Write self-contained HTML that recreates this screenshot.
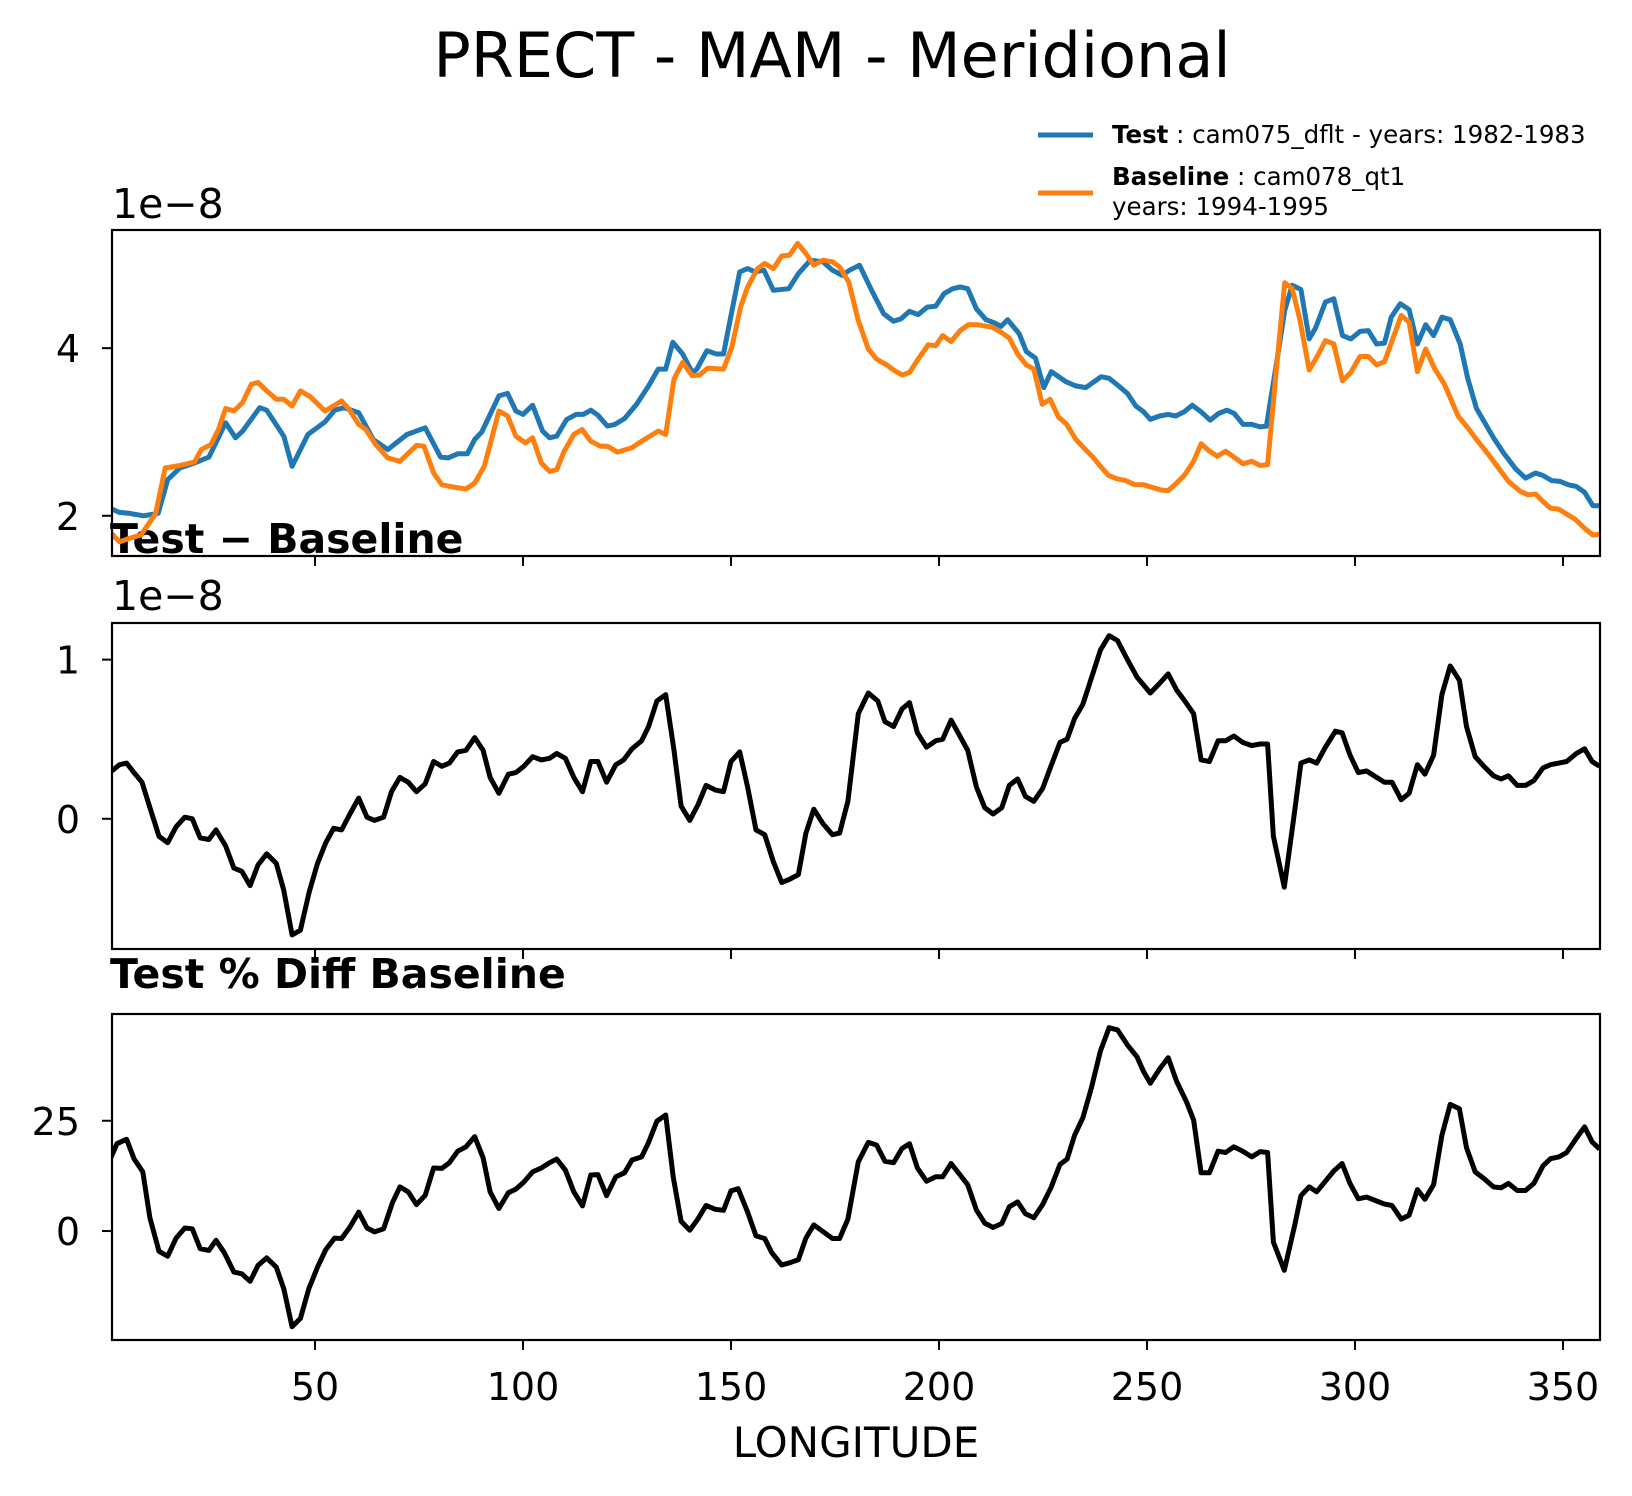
<!DOCTYPE html>
<html><head><meta charset="utf-8"><style>
body{margin:0;background:#fff}
svg{display:block;font-family:"DejaVu Sans","Liberation Sans",sans-serif}
</style></head><body>
<svg id="chart" width="1632" height="1496" viewBox="0 0 1632 1496">
<rect width="1632" height="1496" fill="#fff"/>
<text x="832" y="77" font-size="62" text-anchor="middle">PRECT - MAM - Meridional</text>
<g>
<line x1="1038" y1="135" x2="1093" y2="135" stroke="#1f77b4" stroke-width="5"/>
<text x="1112" y="143" font-size="24.5"><tspan font-weight="bold">Test</tspan> : cam075_dflt - years: 1982-1983</text>
<line x1="1038" y1="193" x2="1093" y2="193" stroke="#ff7f0e" stroke-width="5"/>
<text x="1112" y="185" font-size="24.5"><tspan font-weight="bold">Baseline</tspan> : cam078_qt1</text>
<text x="1112" y="215" font-size="24.5">years: 1994-1995</text>
</g>
<text x="112" y="218" font-size="41">1e−8</text>
<text x="112" y="610" font-size="41">1e−8</text>
<text x="110" y="553" font-size="41" font-weight="bold">Test − Baseline</text>
<text x="110" y="988" font-size="41" font-weight="bold">Test % Diff Baseline</text>
<text x="856" y="1457" font-size="42" text-anchor="middle">LONGITUDE</text>
<g id="plots"></g>
</svg>
<script>
const xTicks=[50,100,150,200,250,300,350];
const topTicks=[2,4];
const midTicks=[0,1];
const botTicks=[0,25];
const testLon=[0.66,3,5.3,8.8,12.3,14.6,17.5,21,24.5,28.5,30.9,32.6,36.7,38.4,42.5,44.5,48.3,52.4,54.7,57,60.5,64,67.5,72.1,76.5,80.2,82,84.3,86.6,88.4,90.1,94.2,96.3,98.3,100,102.3,104.7,106.4,108.1,110.5,112.8,114.5,116.3,118,120.3,122.1,124.4,127.3,130.2,132.5,134.3,136,138.4,140.7,141.8,144.2,146.5,148.2,150,152.1,154,155.8,157.9,160.2,163.9,166.2,169.1,172.1,174.4,176.7,178.5,180.9,183.8,186.7,189.1,190.9,192.9,195,197.2,199.2,201.2,203.3,205.1,206.9,209,211.3,213.4,214.9,216.5,219.3,221,223.2,225.2,227,230.5,232.9,235.3,239,240.9,242.9,245.3,247.3,249.2,250.8,253,255.1,256.9,258.9,260.9,263,265.2,267.2,269.2,271,273.1,275.2,277.2,278.7,281.3,283.1,284.9,287,289,290.5,292.9,294.9,297,299,301.2,303.2,305.2,307.1,308.7,310.9,313,315,317,318.9,320.9,322.9,325.3,327.1,329.2,333.3,335.7,338.6,341,343.4,345.2,347.3,349.3,351.3,353.2,355.2,357.2,358.8];
const testVal=[2.09,2.04,2.03,2.0,2.03,2.43,2.57,2.63,2.70,3.11,2.93,3.01,3.29,3.26,2.95,2.59,2.97,3.12,3.26,3.29,3.23,2.91,2.79,2.97,3.05,2.70,2.69,2.74,2.74,2.91,3.00,3.43,3.46,3.25,3.21,3.32,3.01,2.93,2.95,3.15,3.21,3.21,3.26,3.20,3.07,3.09,3.16,3.33,3.55,3.75,3.75,4.07,3.93,3.71,3.75,3.97,3.93,3.93,4.39,4.91,4.95,4.91,4.93,4.69,4.71,4.89,5.05,5.03,4.93,4.87,4.93,4.99,4.69,4.41,4.32,4.35,4.44,4.40,4.49,4.50,4.65,4.71,4.73,4.71,4.47,4.34,4.30,4.26,4.34,4.17,3.96,3.88,3.53,3.72,3.60,3.55,3.53,3.66,3.64,3.56,3.46,3.31,3.24,3.15,3.19,3.21,3.19,3.24,3.32,3.24,3.14,3.22,3.26,3.22,3.09,3.09,3.06,3.07,3.87,4.45,4.75,4.70,4.11,4.24,4.55,4.59,4.15,4.11,4.20,4.21,4.05,4.06,4.37,4.53,4.46,4.05,4.28,4.15,4.37,4.34,4.05,3.64,3.28,2.93,2.75,2.56,2.45,2.51,2.48,2.42,2.41,2.37,2.35,2.28,2.12,2.12];
const baseLon=[0.66,3,5.3,8.2,11.7,14,17.5,21,22.7,25,26.8,28.5,30.5,32.6,34.7,36.3,38.4,40.7,42.5,44.5,46.5,48.9,52.4,56.4,58.2,60.5,62.2,64.6,67.5,70.4,74.4,76.2,78.5,80.5,83.7,86.3,88.4,90.7,92.4,94.2,96.3,98.3,100.6,102.3,104.4,106.4,108.1,109.9,112.2,114.2,116.3,118.6,120.3,122.7,126.1,128.5,132.5,134.3,136.3,138.4,140.7,142.4,144.4,148.2,150.2,152.3,154,156.4,158.1,160.2,162.2,164.1,166,168,169.9,172.1,174.4,176.1,178.3,180.6,183,185,187.4,189.1,191.1,192.9,195,197.4,199.2,200.9,202.9,205.1,207.1,209.2,212.8,214.9,216.9,218.9,221,222.8,224.8,226.7,228.7,230.7,232.9,235,237,238.8,240.8,242.9,244.9,247.1,249.2,251.2,253.2,255.1,257.1,259.1,261.2,263,264.8,266.9,268.9,270.9,273.1,275.2,277.2,279,281.1,283.1,284.9,286.7,289,290.8,292.9,294.9,297,299,301.2,303.2,305.2,307.1,309.1,311.1,313,315,317,319.1,321.5,324.8,327.1,329.2,332.1,334.5,336.9,339.8,341.6,343.4,345.2,347,349,350.9,352.9,355.2,357.2,358.8];
const baseVal=[1.81,1.69,1.73,1.77,2.03,2.57,2.60,2.64,2.79,2.85,3.03,3.28,3.25,3.35,3.57,3.59,3.49,3.39,3.39,3.31,3.49,3.42,3.25,3.37,3.27,3.09,3.03,2.85,2.69,2.65,2.84,2.83,2.51,2.37,2.34,2.32,2.39,2.59,2.91,3.25,3.19,2.95,2.87,2.93,2.63,2.53,2.55,2.77,2.97,3.03,2.89,2.83,2.83,2.76,2.81,2.89,3.01,2.97,3.63,3.83,3.67,3.68,3.76,3.75,4.01,4.49,4.73,4.95,5.01,4.95,5.10,5.11,5.25,5.13,4.99,5.05,5.03,4.97,4.79,4.33,3.99,3.87,3.80,3.74,3.68,3.71,3.87,4.04,4.03,4.15,4.08,4.21,4.28,4.28,4.25,4.19,4.12,3.93,3.80,3.75,3.33,3.39,3.18,3.09,2.91,2.80,2.70,2.59,2.48,2.44,2.42,2.37,2.37,2.34,2.31,2.30,2.39,2.49,2.65,2.86,2.78,2.71,2.77,2.70,2.62,2.65,2.60,2.61,3.75,4.78,4.71,4.35,3.74,3.89,4.09,4.05,3.61,3.71,3.90,3.90,3.80,3.84,4.11,4.39,4.31,3.72,3.99,3.76,3.57,3.19,3.05,2.91,2.73,2.57,2.41,2.29,2.25,2.26,2.17,2.09,2.08,2.02,1.96,1.85,1.77,1.78];
const diffLon=[0.66,3,4.7,6.5,8.4,10.3,12.5,14.6,16.6,18.7,20.5,22.4,24.5,26.2,28.5,30.5,32.4,34.4,36.3,38.4,40.7,42.5,44.5,46.5,48.6,50.6,52.6,54.5,56.4,58.4,60.5,62.5,64.3,66.5,68.4,70.4,72.4,74.4,76.5,78.5,80.5,82.3,84.3,86.3,88.4,90.4,92.1,94.2,96.5,98.3,100.2,102.3,104.4,106.4,108.1,110.2,112.2,114.3,116.3,118,120.1,122.3,124.2,126.2,128.5,130.2,132.2,134.3,136.3,138,140.1,142.1,144,146.3,148.2,150,152.1,154,156,158.1,160.2,162.2,164.1,166.2,168,169.9,172.1,174.4,176.1,178.1,180.6,183,185.3,187,189.1,191.1,192.9,194.8,197,199.2,200.9,202.9,206.9,209,211,213,215.1,216.9,218.9,220.8,222.8,224.9,226.9,229.1,230.8,232.6,234.6,236.6,238.8,240.9,242.9,245.3,247.6,250.8,253,255.1,257.1,259.1,261.2,263,265,267.1,268.9,270.9,273,275.2,277.2,279,280.4,283,285.5,287,289,290.8,292.9,295.3,296.9,298.8,300.8,302.8,305.2,307.1,308.9,311.1,313,315,316.8,318.9,320.9,322.9,325.1,326.8,328.9,331,333.3,335.1,336.9,339,341,343,345.2,347,349,350.9,353.2,355.2,357,358.8];
const diffVal=[0.29,0.34,0.35,0.29,0.23,0.07,-0.11,-0.15,-0.05,0.01,0.0,-0.12,-0.13,-0.07,-0.17,-0.31,-0.33,-0.42,-0.29,-0.22,-0.28,-0.45,-0.73,-0.70,-0.46,-0.28,-0.15,-0.06,-0.07,0.03,0.13,0.01,-0.01,0.01,0.17,0.26,0.23,0.17,0.22,0.36,0.33,0.35,0.42,0.43,0.51,0.43,0.26,0.16,0.28,0.29,0.33,0.39,0.37,0.38,0.41,0.38,0.26,0.17,0.36,0.36,0.23,0.34,0.37,0.44,0.49,0.58,0.74,0.78,0.43,0.08,-0.01,0.09,0.21,0.18,0.17,0.36,0.42,0.20,-0.07,-0.10,-0.27,-0.40,-0.38,-0.35,-0.09,0.06,-0.03,-0.10,-0.09,0.11,0.66,0.79,0.74,0.61,0.58,0.69,0.73,0.54,0.45,0.49,0.50,0.62,0.43,0.20,0.07,0.03,0.07,0.21,0.25,0.14,0.11,0.19,0.33,0.48,0.50,0.63,0.72,0.88,1.06,1.15,1.12,1.00,0.89,0.79,0.85,0.91,0.81,0.74,0.66,0.37,0.36,0.49,0.49,0.52,0.48,0.46,0.47,0.47,-0.11,-0.43,0.05,0.35,0.37,0.35,0.45,0.55,0.54,0.40,0.29,0.30,0.26,0.23,0.23,0.12,0.16,0.34,0.28,0.40,0.78,0.96,0.87,0.58,0.39,0.33,0.27,0.25,0.27,0.21,0.21,0.24,0.32,0.34,0.35,0.36,0.41,0.44,0.36,0.33];
const pctLon=[0.66,2.4,4.7,6.5,8.6,10.3,12.5,14.6,16.6,18.7,20.5,22.4,24.5,26.2,28.2,30.5,32.4,34.4,36.3,38.4,40.7,42.5,44.5,46.5,48.5,50.6,52.6,54.7,56.4,58.4,60.5,62.5,64.3,66.5,68.6,70.4,72.4,74.4,76.5,78.5,80.5,82.3,84.3,86.3,88.4,90.4,92.1,94.2,96.5,98.3,100.2,102.3,104.4,106.4,108.1,110.2,112.2,114.3,116.3,118,120.1,122.3,124.4,126.2,128.5,130.2,132.2,134.3,136.1,138,140.1,142.1,144,146.3,148.2,150,151.7,154,156,158.1,159.8,162.2,164.1,166.2,168,169.9,172.1,174.4,176.1,178.1,180.6,183,185,187,189.1,191.1,192.9,194.8,197,199.2,200.9,202.9,206.9,209,211,213,215.1,216.9,218.9,220.8,222.8,224.9,226.9,229.1,230.8,232.6,234.6,236.6,238.8,240.9,242.9,245.3,247.6,249.2,250.8,253,255.1,257.1,259.5,261.2,263,265,267.1,268.9,270.9,273,275.2,277.2,279,280.4,283,285.5,287,289,290.8,292.9,294.9,296.9,298.8,300.8,302.8,305.2,307.1,308.9,311.1,313,315,316.8,318.9,320.9,322.9,325.1,326.8,328.9,331,333.3,335.1,336.9,339,341,343,345.2,347,349,350.9,353.2,355.2,357,358.8];
const pctVal=[16.1,19.8,20.8,16.4,13.4,3.0,-4.6,-5.7,-1.6,0.7,0.5,-4.0,-4.4,-2.1,-4.9,-9.3,-9.7,-11.4,-7.8,-6.1,-8.2,-13.1,-21.7,-19.8,-13.1,-8.2,-4.2,-1.6,-1.7,0.9,4.3,0.7,-0.2,0.5,6.4,10.0,8.9,6.0,8.1,14.3,14.2,15.5,18.1,19.1,21.4,16.6,8.9,5.1,8.7,9.5,11.1,13.4,14.3,15.5,16.3,13.8,8.9,5.7,12.7,12.8,8.0,12.3,13.2,16.1,16.8,20.1,24.9,26.3,12.3,2.2,0.2,2.8,5.8,4.9,4.7,9.1,9.6,4.3,-1.1,-1.7,-4.9,-7.7,-7.2,-6.5,-1.6,1.4,-0.1,-1.7,-1.7,2.7,15.7,20.1,19.5,15.8,15.5,18.7,19.8,14.3,11.3,12.3,12.3,15.3,10.5,4.8,1.8,0.8,1.7,5.5,6.6,3.9,3.0,6.0,9.8,15.1,16.3,21.7,25.7,32.3,40.8,46.1,45.6,42.2,39.5,36.1,33.5,36.7,39.3,34.0,29.3,25.2,13.2,13.2,18.1,17.8,19.1,18.1,16.8,18.0,17.8,-2.5,-8.9,1.3,8.0,10.0,8.9,11.3,13.6,15.3,10.8,7.3,7.7,6.8,6.1,5.8,2.7,3.6,9.4,7.2,10.5,21.7,28.7,27.7,18.9,13.4,11.9,10.0,9.8,10.8,9.2,9.2,10.8,14.8,16.4,16.8,17.8,21.0,23.6,20.2,18.6];

const NS='http://www.w3.org/2000/svg';
const L=112,R=1600,XMIN=1.2,XMAX=358.9;
function xs(v){return L+(v-XMIN)/(XMAX-XMIN)*(R-L);}
function mk(tag,attrs,parent){const e=document.createElementNS(NS,tag);for(const k in attrs)e.setAttribute(k,attrs[k]);parent.appendChild(e);return e;}
const root=document.getElementById('plots');
const panels=[
 {name:'top',top:230,bot:556,vmin:1.52,vmax:5.41,ticks:topTicks,series:[[testLon,testVal,'#1f77b4','test-line'],[baseLon,baseVal,'#ff7f0e','baseline-line']],labels:false},
 {name:'diff',top:623,bot:949,vmin:-0.818,vmax:1.23,ticks:midTicks,series:[[diffLon,diffVal,'#000','diff-line']],labels:false},
 {name:'pct',top:1014,bot:1340,vmin:-24.7,vmax:49.2,ticks:botTicks,series:[[pctLon,pctVal,'#000','pct-diff-line']],labels:true}
];
panels.forEach(p=>{
 const ys=v=>p.bot-(v-p.vmin)/(p.vmax-p.vmin)*(p.bot-p.top);
 const g=mk('g',{},root);
 
 
 const cid='clip-'+p.name;
 const cp=mk('clipPath',{id:cid},g);
 mk('rect',{x:L,y:p.top,width:R-L,height:p.bot-p.top},cp);
 p.series.forEach(s=>{
  const d=s[0].map((lon,i)=>(i?'L':'M')+xs(lon).toFixed(1)+' '+ys(s[1][i]).toFixed(1)).join(' ');
  const path=mk('path',{d:d,fill:'none',stroke:s[2],'stroke-width':5,'stroke-linejoin':'round','clip-path':'url(#'+cid+')'},g);
  
  
 });
 const fr=mk('rect',{x:L,y:p.top,width:R-L,height:p.bot-p.top,fill:'none',stroke:'#000','stroke-width':2.2},g);
 
 
 p.ticks.forEach(t=>{
  const y=ys(t);
  const tk=mk('line',{x1:L-10,x2:L,y1:y,y2:y,stroke:'#000','stroke-width':2},g);
  
  
  const tl=mk('text',{x:L-32,y:y+14,'font-size':38,'text-anchor':'end'},g);
  tl.textContent=String(t);
  
  
 });
 xTicks.forEach(t=>{
  const x=xs(t);
  const tk=mk('line',{x1:x,x2:x,y1:p.bot,y2:p.bot+10,stroke:'#000','stroke-width':2},g);
  
  
  if(p.labels){
   const tl=mk('text',{x:x,y:1400,'font-size':38,'text-anchor':'middle'},g);
   tl.textContent=String(t);
   
   
  }
 });
});
</script>
</body></html>
